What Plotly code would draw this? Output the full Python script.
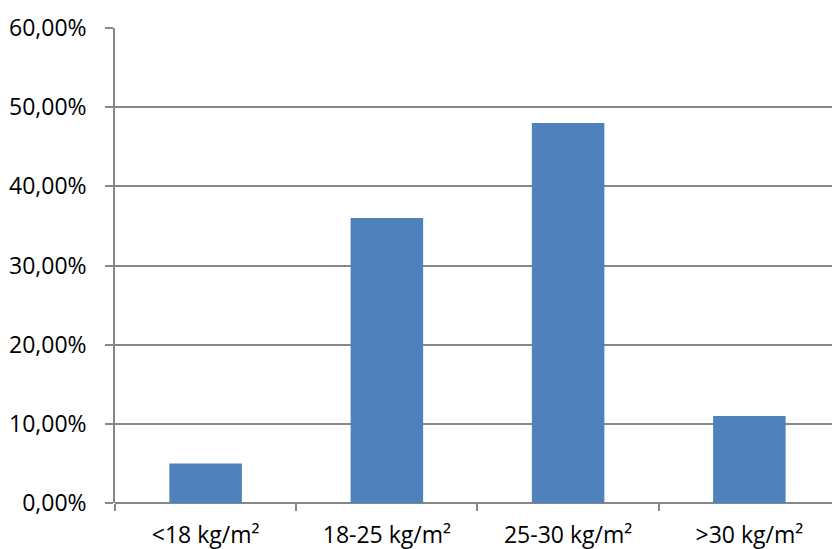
import plotly.graph_objects as go

# BMI categories and share of respondents
categories = ["<18 kg/m²", "18-25 kg/m²", "25-30 kg/m²", ">30 kg/m²"]
shares = [0.05, 0.36, 0.48, 0.11]
y_ticks = [0, 0.1, 0.2, 0.3, 0.4, 0.5, 0.6]

grid_color = "#878787"
font_family = "Open Sans, Lato, sans-serif"
line_w = 1.6

fig = go.Figure(
    go.Bar(
        x=categories,
        y=shares,
        marker=dict(color="#4f81bd", line=dict(width=0)),
        hoverinfo="x+y",
    )
)

fig.update_layout(
    width=832,
    height=549,
    margin=dict(l=115, r=0, t=28, b=46),
    paper_bgcolor="white",
    plot_bgcolor="white",
    separators=",.",
    bargap=0.6,
    showlegend=False,
    font=dict(family=font_family, size=23, color="#000000"),
)

fig.update_xaxes(
    type="category",
    range=[-0.5, 3.456],
    showgrid=False,
    showline=False,
    ticks="outside",
    tickson="boundaries",
    ticklen=7,
    tickcolor=grid_color,
    tickwidth=line_w,
    ticklabelstandoff=16,
    tickfont=dict(size=23),
)

fig.update_yaxes(
    range=[0, 0.6],
    tickvals=y_ticks,
    tickformat=".2%",
    showgrid=True,
    gridcolor=grid_color,
    gridwidth=line_w,
    showline=True,
    linecolor=grid_color,
    linewidth=line_w,
    zeroline=True,
    zerolinecolor=grid_color,
    zerolinewidth=line_w,
    ticks="outside",
    ticklen=8,
    tickcolor=grid_color,
    tickwidth=line_w,
    ticklabelstandoff=14,
    tickfont=dict(size=23),
)

fig.write_html("out.html")
